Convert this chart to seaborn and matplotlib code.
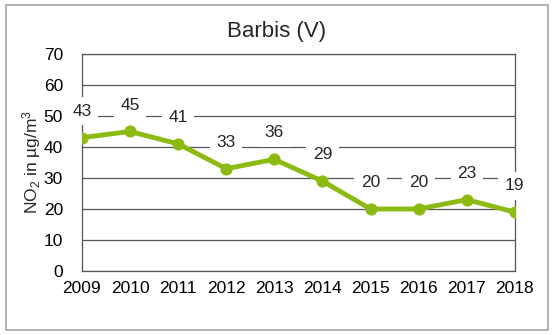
import matplotlib
matplotlib.use("Agg")
import matplotlib.pyplot as plt
import seaborn as sns
import pandas as pd
from matplotlib.patches import Rectangle

years = [2009, 2010, 2011, 2012, 2013, 2014, 2015, 2016, 2017, 2018]
no2 = [43, 45, 41, 33, 36, 29, 20, 20, 23, 19]
yticks = [0, 10, 20, 30, 40, 50, 60, 70]

sns.set_style("white")
plt.rcParams["font.family"] = ["Liberation Sans", "DejaVu Sans"]
plt.rcParams["mathtext.fontset"] = "custom"
plt.rcParams["mathtext.rm"] = "Liberation Sans"

df = pd.DataFrame({"year": years, "no2": no2})

fig = plt.figure(figsize=(5.53, 3.35), dpi=100)
ax = fig.add_axes([0.148, 0.191, 0.783, 0.648])

green = "#8DBA12"
sns.lineplot(data=df, x="year", y="no2", ax=ax, color=green, linewidth=3.5,
             marker="o", markersize=8, markeredgecolor=green, zorder=3)

ax.set_xlim(years[0], years[-1])
ax.set_ylim(0, 70)
ax.set_yticks(yticks)
ax.set_xticks(years)
ax.set_xticklabels([str(y) for y in years])
ax.yaxis.grid(True, color="#555555", linewidth=0.9)
ax.set_axisbelow(True)
for s in ax.spines.values():
    s.set_color("#555555")
    s.set_linewidth(0.9)
ax.tick_params(axis="both", labelsize=12.5, colors="black", length=5,
               width=0.9, direction="out", color="#555555", pad=2)
ax.tick_params(axis="y", pad=8.5)

ax.set_xlabel("")
ax.set_ylabel(r"NO$\mathregular{_2}$ in µg/m$\mathregular{^3}$", fontsize=12.5)
ax.yaxis.set_label_coords(-0.09, 0.5)

for x, v in zip(years, no2):
    ax.annotate(str(v), (x, v), xytext=(0, 19), textcoords="offset points",
                ha="center", va="center", fontsize=12.5, zorder=4,
                bbox=dict(boxstyle="square,pad=0.38", fc="white", ec="none"),
                annotation_clip=False)

fig.text(0.5, 0.905, "Barbis (V)", ha="center", va="center", fontsize=16)

fig.patches.append(Rectangle((6 / 553, 5 / 335), 542 / 553, 325 / 335,
                             transform=fig.transFigure, fill=False,
                             ec="#A6A6A6", lw=1.2))

fig.savefig("out.png", dpi=100)
